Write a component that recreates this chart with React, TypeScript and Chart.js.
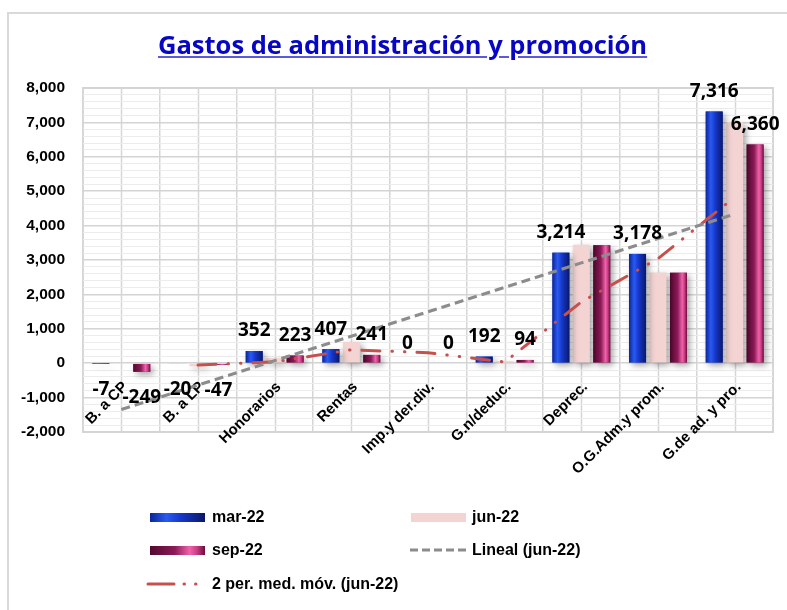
import React, { useEffect, useRef } from "react";
import { Chart, registerables } from "chart.js";

Chart.register(...registerables);

const categories = [
  "B. a CP",
  "B. a LP",
  "Honorarios",
  "Rentas",
  "Imp.y der.div.",
  "G.n/deduc.",
  "Deprec.",
  "O.G.Adm.y prom.",
  "G.de ad. y pro.",
];
const mar22 = [-7, -20, 352, 407, 0, 192, 3214, 3178, 7316];
const jun22 = [-20, -90, 150, 620, 0, 60, 3440, 2640, 7010];
const sep22 = [-249, -47, 223, 241, 0, 94, 3430, 2630, 6360];
const linealJun22 = [-1345, -635, 75, 785, 1495, 2205, 2915, 3625, 4335];
const mediaMovilJun22 = [null, -55, 40, 390, 305, 35, 1780, 3040, 4825];
const sepLabelHidden = ["Deprec.", "O.G.Adm.y prom."];
const yTickMin = -2000;
const yTickMax = 8000;

const TITLE = "Gastos de administración y promoción";
const fmt = (v: number) => Math.round(v).toLocaleString("en-US");
const AXIS_FONT = "'Liberation Sans', Arial";

const gradStops: Record<number, [number, string][]> = {
  0: [
    [0, "#0b2696"],
    [0.3, "#2a5af2"],
    [0.55, "#1638cc"],
    [1, "#0a186a"],
  ],
  2: [
    [0, "#54082f"],
    [0.45, "#8c1a58"],
    [0.72, "#f062aa"],
    [0.86, "#c83a82"],
    [1, "#6a0c3c"],
  ],
};

const gridAndFramePlugin = {
  id: "gridFrame",
  beforeDraw(chart: any) {
    const { ctx, chartArea, scales } = chart;
    const xs = scales.x;
    if (!chartArea || !xs) return;
    ctx.save();
    ctx.strokeStyle = "#d6d6d6";
    ctx.lineWidth = 1.5;
    for (let i = 0; i < categories.length; i++) {
      const px = Math.round(xs.getPixelForValue(i)) + 0.5;
      ctx.beginPath();
      ctx.moveTo(px, chartArea.top);
      ctx.lineTo(px, chartArea.bottom);
      ctx.stroke();
    }
    ctx.lineWidth = 2;
    ctx.strokeStyle = "#d6d6d6";
    ctx.strokeRect(chartArea.left, chartArea.top, chartArea.right - chartArea.left, chartArea.bottom - chartArea.top);
    ctx.restore();
  },
  beforeDatasetDraw(chart: any, args: any) {
    const meta = chart.getDatasetMeta(args.index);
    if (meta.type !== "bar") return;
    const ctx = chart.ctx;
    ctx.save();
    ctx.shadowColor = "rgba(0,0,0,0.35)";
    ctx.shadowBlur = 6;
    ctx.shadowOffsetX = 3;
    ctx.shadowOffsetY = 3;
  },
  afterDatasetDraw(chart: any, args: any) {
    const meta = chart.getDatasetMeta(args.index);
    if (meta.type !== "bar") return;
    const ctx = chart.ctx;
    ctx.restore();
    const stops = gradStops[args.index];
    if (!stops) return;
    ctx.save();
    meta.data.forEach((el: any) => {
      const { x, y, base, width } = el.getProps(["x", "y", "base", "width"], true);
      const left = x - width / 2;
      const top = Math.min(y, base);
      const h = Math.abs(base - y);
      if (h < 0.5) return;
      const g = ctx.createLinearGradient(left, 0, left + width, 0);
      stops.forEach(([o, c]) => g.addColorStop(o, c));
      ctx.fillStyle = g;
      ctx.fillRect(left, top, width, h);
    });
    ctx.restore();
  },
  afterDatasetsDraw(chart: any) {
    const ctx = chart.ctx;
    ctx.save();
    ctx.font = "bold 19px 'Open Sans'";
    ctx.fillStyle = "#000000";
    ctx.textAlign = "center";
    ctx.textBaseline = "middle";
    [0, 2].forEach((di) => {
      const meta = chart.getDatasetMeta(di);
      const vals = di === 0 ? mar22 : sep22;
      meta.data.forEach((el: any, i: number) => {
        if (di === 2 && sepLabelHidden.includes(categories[i])) return;
        const { x, y } = el.getProps(["x", "y"], true);
        const v = vals[i];
        const ly = v < 0 ? y + 26 : y - 20;
        ctx.fillText(fmt(v), x, ly);
      });
    });
    ctx.restore();
  },
};

function ChartCanvas() {
  const ref = useRef<HTMLCanvasElement | null>(null);
  useEffect(() => {
    if (!ref.current) return;
    const chart = new Chart(ref.current, {
      type: "bar",
      data: {
        labels: categories,
        datasets: [
          {
            type: "bar",
            label: "mar-22",
            data: mar22,
            backgroundColor: "#1434b8",
            categoryPercentage: 0.8,
            barPercentage: 0.83,
            order: 1,
          },
          {
            type: "bar",
            label: "jun-22",
            data: jun22,
            backgroundColor: "#f4d3d3",
            categoryPercentage: 0.8,
            barPercentage: 0.83,
            order: 1,
          },
          {
            type: "bar",
            label: "sep-22",
            data: sep22,
            backgroundColor: "#8c1a58",
            categoryPercentage: 0.8,
            barPercentage: 0.83,
            order: 1,
          },
          {
            type: "line",
            label: "Lineal (jun-22)",
            data: linealJun22,
            borderColor: "#8c8c8c",
            borderWidth: 3,
            borderDash: [9, 5],
            pointRadius: 0,
            fill: false,
            order: 0,
          },
          {
            type: "line",
            label: "2 per. med. móv. (jun-22)",
            data: mediaMovilJun22,
            borderColor: "#c8504c",
            borderWidth: 3,
            borderDash: [18, 12, 0.5, 12, 0.5, 12],
            borderCapStyle: "round",
            pointRadius: 0,
            fill: false,
            order: 0,
          },
        ] as any,
      },
      options: {
        responsive: false,
        devicePixelRatio: 1,
        animation: false,
        layout: { padding: { left: 0, top: 88, right: 14, bottom: 178 } },
        plugins: {
          legend: { display: false },
          title: { display: false },
          tooltip: { enabled: false },
        },
        scales: {
          x: {
            position: { y: 0 } as any,
            offset: true,
            grid: { offset: true, color: "#d6d6d6", lineWidth: 1.5, drawTicks: false },
            border: { display: false },
            ticks: {
              minRotation: 45,
              maxRotation: 45,
              autoSkip: false,
              padding: 15,
              labelOffset: 4,
              color: "#000000",
              font: { family: AXIS_FONT, size: 15, weight: "bold" },
            },
            afterFit: (s: any) => {
              s.height = 0;
              s.paddingLeft = 0;
              s.paddingRight = 0;
            },
          },
          y: {
            min: yTickMin,
            max: yTickMax,
            grid: {
              drawTicks: false,
              color: (c: any) => (Math.round(c.tick.value) % 1000 === 0 ? "#d4d4d4" : "#ececec"),
              lineWidth: (c: any) => (Math.round(c.tick.value) % 1000 === 0 ? 1.5 : 1),
            },
            border: { display: false },
            ticks: {
              stepSize: 200,
              autoSkip: false,
              padding: 18,
              color: "#000000",
              font: { family: AXIS_FONT, size: 15.5, weight: "bold" },
              callback: (v: any) => (Math.round(v) % 1000 === 0 ? fmt(v) : ""),
            },
            afterFit: (s: any) => {
              s.width = 83;
            },
          },
        },
      } as any,
      plugins: [gridAndFramePlugin],
    });
    return () => chart.destroy();
  }, []);
  return <canvas ref={ref} width={787} height={610} style={{ position: "absolute", left: 0, top: 0 }} />;
}

const legendText: React.CSSProperties = {
  position: "absolute",
  font: "bold 16px 'Liberation Sans', Arial, sans-serif",
  color: "#000",
  lineHeight: "18px",
  whiteSpace: "nowrap",
};

export default function App() {
  return (
    <div
      style={{
        position: "fixed",
        left: 0,
        top: 0,
        width: 787,
        height: 610,
        overflow: "hidden",
        background: "#ffffff",
      }}
    >
      <div
        style={{
          position: "absolute",
          left: 7,
          top: 12,
          width: 820,
          height: 640,
          border: "2px solid #d9d9d9",
        }}
      />
      <ChartCanvas />
      <div
        style={{
          position: "absolute",
          left: 158,
          top: 27,
          font: "bold 25.5px 'Open Sans', sans-serif",
          color: "#0606c4",
          textDecoration: "underline",
          textDecorationColor: "#5a5ae0",
          whiteSpace: "nowrap",
        }}
      >
        {TITLE}
      </div>
      {/* legend */}
      <div
        style={{
          position: "absolute",
          left: 150,
          top: 513,
          width: 55,
          height: 9,
          background: "linear-gradient(90deg,#0b2696,#2a5af2 30%,#1638cc 55%,#0a186a)",
        }}
      />
      <div style={{ ...legendText, left: 212, top: 508 }}>mar-22</div>
      <div style={{ position: "absolute", left: 411, top: 513, width: 55, height: 9, background: "#f4d3d3" }} />
      <div style={{ ...legendText, left: 472, top: 508 }}>jun-22</div>
      <div
        style={{
          position: "absolute",
          left: 150,
          top: 546,
          width: 55,
          height: 9,
          background: "linear-gradient(90deg,#54082f,#8c1a58 45%,#f062aa 72%,#c83a82 86%,#6a0c3c)",
        }}
      />
      <div style={{ ...legendText, left: 212, top: 541 }}>sep-22</div>
      <svg style={{ position: "absolute", left: 408, top: 545 }} width={60} height={10}>
        <line x1={2} y1={5} x2={58} y2={5} stroke="#8c8c8c" strokeWidth={3} strokeDasharray="8 4" />
      </svg>
      <div style={{ ...legendText, left: 472, top: 541 }}>Lineal (jun-22)</div>
      <svg style={{ position: "absolute", left: 146, top: 579 }} width={62} height={10}>
        <line x1={2} y1={5} x2={58} y2={5} stroke="#c8504c" strokeWidth={3} strokeLinecap="round" strokeDasharray="26 10 0.5 11 0.5 20" />
      </svg>
      <div style={{ ...legendText, left: 212, top: 575 }}>2 per. med. móv. (jun-22)</div>
    </div>
  );
}
